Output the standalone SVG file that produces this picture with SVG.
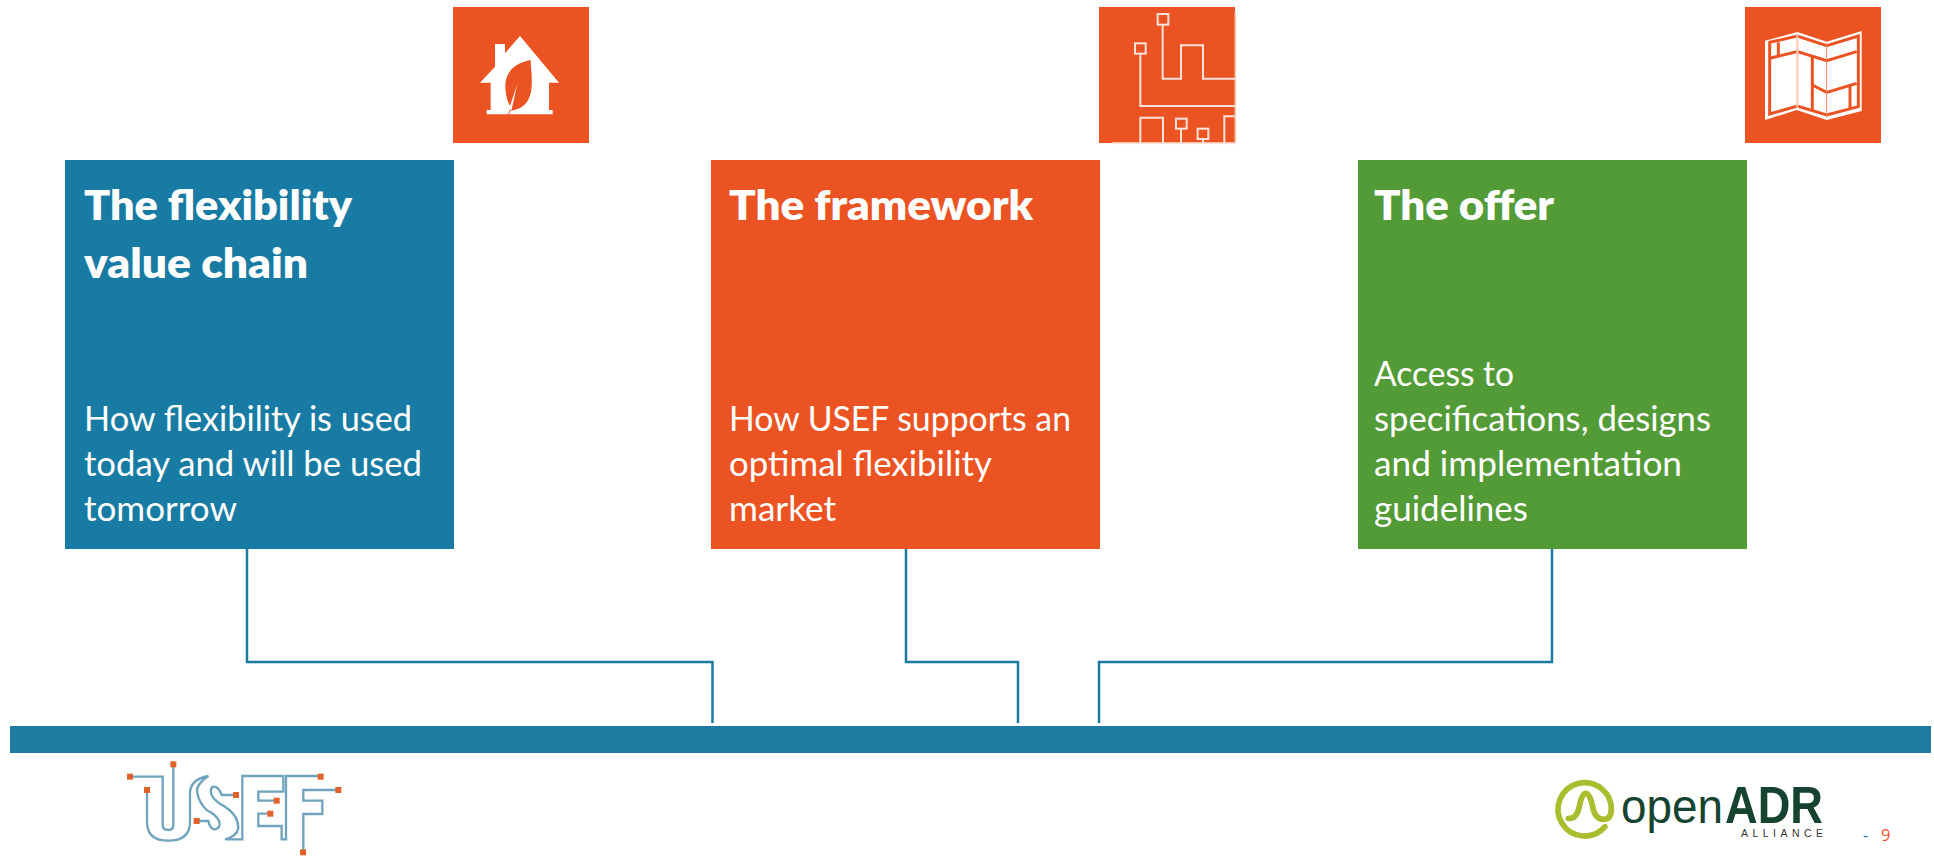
<svg xmlns="http://www.w3.org/2000/svg" width="1934" height="856" viewBox="0 0 1934 856">
<style>
.t{font-family:"Lato","Liberation Sans",sans-serif;font-weight:800;font-size:42px;fill:#fff}
.b{font-family:"Lato","Liberation Sans",sans-serif;font-size:34px;fill:#fff}
.ic{fill:#EB5323}
.l{fill:none;stroke:#FBE3DA;stroke-width:6}
.c{fill:none;stroke:#1A7A9F;stroke-width:2.5}
.u{fill:none;stroke:#6FA3BE;stroke-width:7}
.s{fill:#E2622B}
</style>
<rect width="1934" height="856" fill="#fff"/>
<g id="connectors">
<path class="c" d="M247 549V662H712.5V723"/>
<path class="c" d="M906 549V662H1018V723"/>
<path class="c" d="M1552 549V662H1099V723"/>
</g>
<rect id="bar" x="10" y="726" width="1921" height="27" fill="#1F7B9F"/>
<g id="icon-house">
<rect class="ic" x="453" y="7" width="136" height="136"/>
<g transform="translate(440 0) scale(.33333)">
<path fill="#fff" d="M240 108L357 248H327V330H338V343H140V330H152V248H120L165 200V132H195V160Z"/>
<path class="ic" d="M272 180C215 190 195 225 196 260C197 285 203 305 210 318L232 252L214 332C255 325 272 300 275 260C277 225 272 200 272 180Z"/>
<path d="M212 328L205 343" stroke="#EB5323" stroke-width="3" fill="none"/>
</g>
</g>
<g id="icon-framework">
<rect class="ic" x="1099" y="7" width="136" height="136"/>
<g transform="translate(1090 0) scale(.33333)">
<path d="M436 36V430" fill="none" stroke="#F8C8B5" stroke-width="5"/>
<g class="l">
<rect x="203" y="42" width="32" height="32"/>
<rect x="135" y="130" width="32" height="31"/>
<path d="M218 74V236H273V136H339V236H436"/>
<path d="M151 161V318H436"/>
<path d="M66 430H436"/>
<path d="M151 430V353H219V430"/>
<rect x="258" y="356" width="32" height="30"/>
<path d="M273 386V430"/>
<rect x="323" y="386" width="32" height="31"/>
<path d="M339 417V430"/>
<path d="M403 430V349H436"/>
</g>
</g>
</g>
<g id="icon-map">
<rect class="ic" x="1745" y="7" width="136" height="136"/>
<g transform="translate(1735 0) scale(.33333)">
<path fill="#fff" d="M90 122L187 96L275 125L380 93V333L275 360L185 330L90 360Z"/>
<g fill="none" stroke="#EB5323" stroke-width="9">
<path d="M104 127L187 108L275 137L370 108V320L275 345L187 318L104 342Z"/>
<path d="M104 175L187 155L275 182L365 155"/>
<path d="M130 127V170"/>
<path d="M232 170V335"/>
<path d="M232 255L275 277L365 250"/>
<path d="M345 258V325"/>
</g>
<path d="M187 100V325" stroke="#FBC9B6" stroke-width="6" fill="none"/>
<path d="M275 130V352" stroke="#F28A60" stroke-width="3" fill="none"/>
</g>
</g>
<g id="node-value-chain">
<rect x="65" y="160" width="389" height="389" fill="#187BA3"/>
<text class="t" x="84" y="220" textLength="268" lengthAdjust="spacingAndGlyphs">The flexibility</text>
<text class="t" x="84" y="278" textLength="224" lengthAdjust="spacingAndGlyphs">value chain</text>
<text class="b" x="84" y="431" textLength="328" lengthAdjust="spacingAndGlyphs">How flexibility is used</text>
<text class="b" x="84" y="476" textLength="338" lengthAdjust="spacingAndGlyphs">today and will be used</text>
<text class="b" x="84" y="521" textLength="153" lengthAdjust="spacingAndGlyphs">tomorrow</text>
</g>
<g id="node-framework">
<rect x="711" y="160" width="389" height="389" fill="#EB5323"/>
<text class="t" x="729" y="220" textLength="304" lengthAdjust="spacingAndGlyphs">The framework</text>
<text class="b" x="729" y="431" textLength="342" lengthAdjust="spacingAndGlyphs">How USEF supports an</text>
<text class="b" x="729" y="476" textLength="263" lengthAdjust="spacingAndGlyphs">optimal flexibility</text>
<text class="b" x="729" y="521" textLength="107" lengthAdjust="spacingAndGlyphs">market</text>
</g>
<g id="node-offer">
<rect x="1358" y="160" width="389" height="389" fill="#539B37"/>
<text class="t" x="1374" y="220" textLength="180" lengthAdjust="spacingAndGlyphs">The offer</text>
<text class="b" x="1374" y="386" textLength="140" lengthAdjust="spacingAndGlyphs">Access to</text>
<text class="b" x="1374" y="431" textLength="337" lengthAdjust="spacingAndGlyphs">specifications, designs</text>
<text class="b" x="1374" y="476" textLength="308" lengthAdjust="spacingAndGlyphs">and implementation</text>
<text class="b" x="1374" y="521" textLength="154" lengthAdjust="spacingAndGlyphs">guidelines</text>
</g>
<g id="logo-usef">
<g transform="translate(110 750) scale(.33333)">
<g class="u">
<path d="M60 80H158V225Q158 240 175 240Q190 240 190 225V43"/>
<path d="M111 120V215Q111 272 175 272Q240 272 240 215V130Q240 88 295 78Q255 105 262 130Q268 160 290 180Q320 195 328 215Q332 235 315 238Q300 238 295 213H260"/>
<path d="M378 135H335Q325 108 310 110Q298 115 305 135Q315 155 345 170Q385 195 385 235Q380 260 345 268H397V78H520V125H445V152H500"/>
<path d="M481 191H445V228H515V268H528V78H632"/>
<path d="M685 120H580V152H637V192H580V307"/>
</g>
<g class="s">
<rect x="181" y="34" width="18" height="18"/>
<rect x="51" y="71" width="18" height="18"/>
<rect x="102" y="111" width="18" height="18"/>
<rect x="369" y="126" width="18" height="18"/>
<rect x="491" y="143" width="18" height="18"/>
<rect x="472" y="182" width="18" height="18"/>
<rect x="251" y="204" width="18" height="18"/>
<rect x="623" y="71" width="18" height="18"/>
<rect x="676" y="111" width="18" height="18"/>
<rect x="570" y="298" width="18" height="18"/>
</g>
</g>
</g>
<g id="logo-openadr">
<g transform="translate(1540 760) scale(.33333)" fill="none" stroke="#A9BD2F" stroke-width="17" stroke-linecap="round">
<path d="M195 200A80 80 0 1 1 214 152"/>
<path d="M85 175Q110 178 118 140Q125 100 137 100Q150 100 158 140Q165 178 190 178Q212 178 214 152"/>
</g>
<text x="1621" y="823" font-family="'Liberation Sans',sans-serif" font-size="48" fill="#16432F" textLength="102" lengthAdjust="spacingAndGlyphs">open</text>
<text x="1725" y="823" font-family="'Liberation Sans',sans-serif" font-weight="700" font-size="51" fill="#16432F" textLength="98" lengthAdjust="spacingAndGlyphs">ADR</text>
<text x="1741" y="837" font-family="'Liberation Sans',sans-serif" font-size="10.5" fill="#333" textLength="82">ALLIANCE</text>
</g>
<g id="page-number">
<text x="1863" y="841" font-family="'Open Sans',sans-serif" font-size="16" fill="#1A7A9F">-</text>
<text x="1881" y="841" font-family="'Open Sans',sans-serif" font-size="16.5" fill="#F0532D">9</text>
</g>
</svg>
